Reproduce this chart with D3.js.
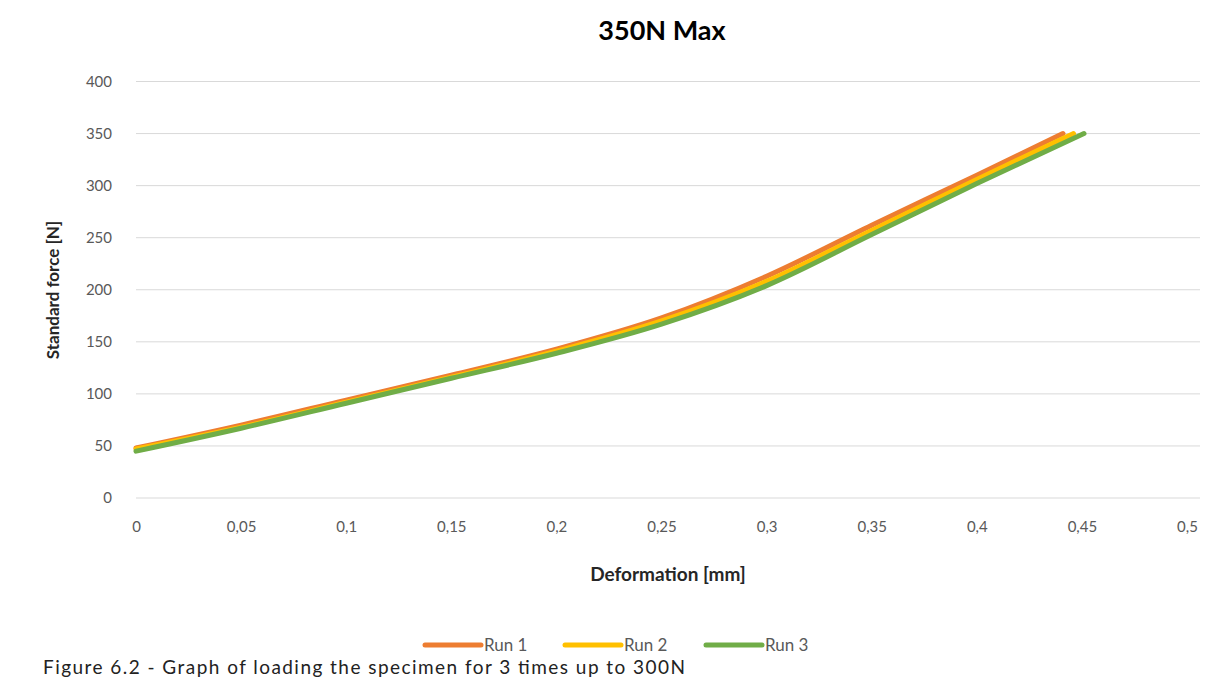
<!DOCTYPE html>
<html>
<head>
<meta charset="utf-8">
<script src="https://cdn.jsdelivr.net/npm/d3@7"></script>
<style>
  body { margin: 0; background: #fff; }
  svg { display: block; }
  text { font-family: Lato, "Open Sans", sans-serif; }
</style>
</head>
<body>
<div id="chart"></div>
<script>
// values
var seriesNames = ["Run 1", "Run 2", "Run 3"];
var seriesColors = ["#ED7D31", "#FFC000", "#70AD47"];

var run1X = [0, 0.05, 0.1, 0.15, 0.2, 0.25, 0.3, 0.35, 0.4, 0.441];
var run1Y = [48, 70, 94, 118, 143, 173, 213, 262, 310, 350];

var run2X = [0, 0.05, 0.1, 0.15, 0.2, 0.25, 0.3, 0.35, 0.4, 0.446];
var run2Y = [47, 68, 92, 116, 141, 170, 208, 257, 306, 350];

var run3X = [0, 0.05, 0.1, 0.15, 0.2, 0.25, 0.3, 0.35, 0.4, 0.451];
var run3Y = [45, 67, 91, 115, 139, 167, 204, 253, 302, 350];

var xTicks = [0, 0.05, 0.1, 0.15, 0.2, 0.25, 0.3, 0.35, 0.4, 0.45, 0.5];
var yTicks = [0, 50, 100, 150, 200, 250, 300, 350, 400];

var W = 1231, H = 678;

var svg = d3.select("#chart").append("svg")
    .attr("width", W)
    .attr("height", H);

var x = d3.scaleLinear().domain([0, 0.5]).range([136, 1187]);
var y = d3.scaleLinear().domain([0, 400]).range([498, 81.5]);

// title
svg.append("text")
    .attr("x", 662).attr("y", 40)
    .attr("text-anchor", "middle")
    .style("font-size", "27px")
    .style("font-weight", "bold")
    .style("fill", "#000")
    .text("350N Max");

// gridlines
svg.append("g").selectAll("line")
    .data(yTicks)
    .enter().append("line")
    .attr("x1", 136).attr("x2", 1200)
    .attr("y1", function (d) { return y(d); })
    .attr("y2", function (d) { return y(d); })
    .style("stroke", "#d9d9d9")
    .style("stroke-width", 1);

// y axis labels
var yAxis = d3.axisLeft(y).tickValues(yTicks).tickSize(0).tickPadding(0)
    .tickFormat(function (d) { return d; });
var gy = svg.append("g").attr("transform", "translate(112,0)").call(yAxis);
gy.select(".domain").remove();
gy.selectAll("text").style("font-size", "15px").style("fill", "#595959")
    .style("font-family", "Lato, 'Open Sans', sans-serif");

// x axis labels
var xAxis = d3.axisBottom(x).tickValues(xTicks).tickSize(0).tickPadding(0)
    .tickFormat(function (d) { return String(d).replace(".", ","); });
var gx = svg.append("g").attr("transform", "translate(0,521)").call(xAxis);
gx.select(".domain").remove();
gx.selectAll("text").style("font-size", "15px").style("fill", "#595959")
    .style("font-family", "Lato, 'Open Sans', sans-serif");

// axis titles
svg.append("text")
    .attr("x", 668).attr("y", 581)
    .attr("text-anchor", "middle")
    .style("font-size", "19px")
    .style("font-weight", "bold")
    .style("fill", "#262626")
    .text("Deformation [mm]");

svg.append("text")
    .attr("transform", "translate(59,290) rotate(-90)")
    .attr("text-anchor", "middle")
    .style("font-size", "17px")
    .style("font-weight", "bold")
    .style("fill", "#262626")
    .text("Standard force [N]");

// lines
var allX = [run1X, run2X, run3X];
var allY = [run1Y, run2Y, run3Y];

var line = d3.line()
    .x(function (d) { return x(d[0]); })
    .y(function (d) { return y(d[1]); })
    .curve(d3.curveMonotoneX);

for (var k = 0; k < seriesNames.length; k++) {
    var pts = allX[k].map(function (v, i) { return [v, allY[k][i]]; });
    svg.append("path")
        .datum(pts)
        .attr("d", line)
        .style("fill", "none")
        .style("stroke", seriesColors[k])
        .style("stroke-width", 5)
        .style("stroke-linecap", "round")
        .style("stroke-linejoin", "round");
}

// legend
var legendX = [425, 565, 706];
var legend = svg.append("g").selectAll("g")
    .data(seriesNames)
    .enter().append("g")
    .attr("transform", function (d, i) { return "translate(" + legendX[i] + ",645)"; });

legend.append("line")
    .attr("x1", 0).attr("x2", 56)
    .attr("y1", 0).attr("y2", 0)
    .style("stroke", function (d, i) { return seriesColors[i]; })
    .style("stroke-width", 5)
    .style("stroke-linecap", "round");

legend.append("text")
    .attr("x", 59).attr("y", 6)
    .style("font-size", "17px")
    .style("fill", "#595959")
    .text(function (d) { return d; });

// figure caption at the bottom edge
svg.append("text")
    .attr("x", 43).attr("y", 674)
    .style("font-size", "19px")
    .style("fill", "#222")
    .attr("textLength", 642)
    .attr("lengthAdjust", "spacing")
    .text("Figure 6.2 - Graph of loading the specimen for 3 times up to 300N");
</script>
</body>
</html>
